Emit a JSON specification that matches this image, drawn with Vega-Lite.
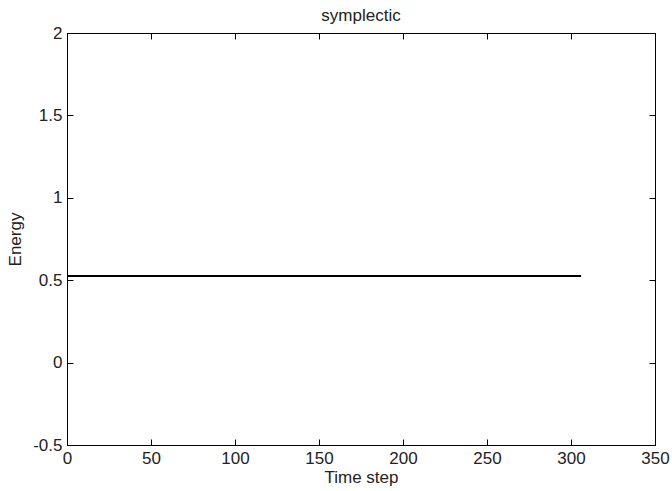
{
  "$schema": "https://vega.github.io/schema/vega-lite/v6.json",
  "width": 588,
  "height": 412,
  "autosize": {"type": "none"},
  "padding": {"left": 67, "top": 33, "right": 17, "bottom": 46},
  "background": "white",
  "title": {"text": "symplectic", "font": "Liberation Sans", "fontSize": 17, "fontWeight": "normal", "color": "#222", "offset": -1},
  "config": {
    "view": {"stroke": "#000", "strokeWidth": 1},
    "axis": {
      "domainColor": "#000", "tickColor": "#000", "tickSize": -6, "grid": false,
      "labelFont": "Liberation Sans", "labelFontSize": 17, "labelColor": "#222",
      "titleFont": "Liberation Sans", "titleFontSize": 17, "titleFontWeight": "normal", "titleColor": "#222"
    }
  },
  "data": {"values": [
    {"t": 0, "energy": 0.525},
    {"t": 50, "energy": 0.525},
    {"t": 100, "energy": 0.525},
    {"t": 150, "energy": 0.525},
    {"t": 200, "energy": 0.525},
    {"t": 250, "energy": 0.525},
    {"t": 306, "energy": 0.525}
  ]},
  "layer": [
    {
      "mark": {"type": "line", "color": "#000", "strokeWidth": 2},
      "encoding": {
        "x": {"field": "t", "type": "quantitative", "scale": {"domain": [0, 350], "nice": false, "zero": false},
          "axis": {"orient": "bottom", "title": "Time step", "values": [0, 50, 100, 150, 200, 250, 300, 350], "labelPadding": 11, "titlePadding": 3, "labelFlush": false, "labelExpr": "datum.value + ''"}},
        "y": {"field": "energy", "type": "quantitative", "scale": {"domain": [-0.5, 2], "nice": false, "zero": false},
          "axis": {"orient": "left", "title": "Energy", "values": [-0.5, 0, 0.5, 1, 1.5, 2], "labelPadding": 11, "titlePadding": 8, "labelFlush": false, "labelExpr": "datum.value + ''"}}
      }
    },
    {
      "mark": {"type": "line", "opacity": 0},
      "encoding": {
        "x": {"field": "t", "type": "quantitative", "scale": {"domain": [0, 350], "nice": false, "zero": false},
          "axis": {"orient": "top", "title": null, "labels": false, "values": [0, 50, 100, 150, 200, 250, 300, 350]}},
        "y": {"field": "energy", "type": "quantitative", "scale": {"domain": [-0.5, 2], "nice": false, "zero": false},
          "axis": {"orient": "right", "title": null, "labels": false, "values": [-0.5, 0, 0.5, 1, 1.5, 2]}}
      }
    }
  ],
  "resolve": {"axis": {"x": "independent", "y": "independent"}}
}
